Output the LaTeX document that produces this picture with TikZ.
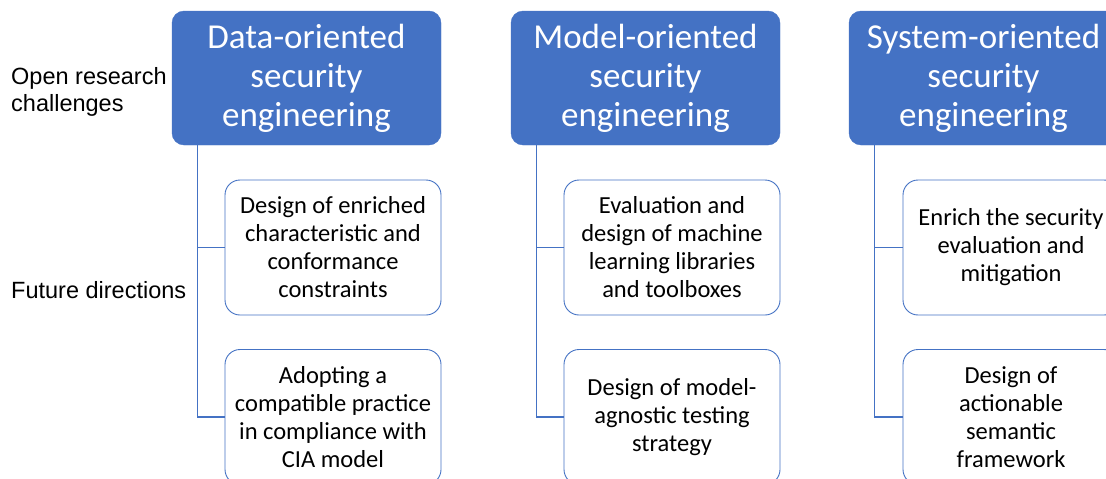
\documentclass[tikz,border=0pt]{standalone}
\usepackage{fontspec}
\setmainfont{Carlito}
\newfontfamily\arialf{Liberation Sans}
\definecolor{accent}{HTML}{4472C4}
\tikzset{
  headbox/.style={draw=accent, fill=accent, rounded corners=12pt, minimum width=269pt, minimum height=134pt,
    inner sep=0pt, text=white, align=center, font=\fontsize{35}{39}\selectfont},
  childbox/.style={draw=accent, line width=0.9pt, fill=white, rounded corners=15pt, minimum width=216pt, minimum height=135pt,
    inner sep=0pt, text=black, align=center, font=\fontsize{24.5}{28}\selectfont},
  conn/.style={draw=accent, line width=1.3pt},
  sidelabel/.style={anchor=west, inner sep=0pt, align=left, font=\arialf\fontsize{23.5}{27}\selectfont}
}
\begin{document}
\begin{tikzpicture}[x=1pt,y=-1pt]
\useasboundingbox (0,0) rectangle (1106,479);
\clip (0,0) rectangle (1106,479);
% headers
\node[headbox] (h1) at (306.5,78) {Data-oriented\\security\\engineering};
\node[headbox] (h2) at (645.5,78) {Model-oriented\\security\\engineering};
\node[headbox] (h3) at (983.5,78) {System-oriented\\security\\engineering};
% children
\node[childbox] (a1) at (333,247.5) {Design of enriched\\characteristic and\\conformance\\constraints};
\node[childbox] (a2) at (333,417) {Adopting a\\compatible practice\\in compliance with\\CIA model};
\node[childbox] (b1) at (672,247.5) {Evaluation and\\design of machine\\learning libraries\\and toolboxes};
\node[childbox] (b2) at (672,417) {Design of model-\\agnostic testing\\strategy};
\node[childbox] (c1) at (1011,247.5) {Enrich the security\\evaluation and\\mitigation};
\node[childbox] (c2) at (1011,417) {Design of\\actionable\\semantic\\framework};
% connectors
\draw[conn] ([xshift=26pt]h1.south west) |- (a1.west);
\draw[conn] ([xshift=26pt]h1.south west) |- (a2.west);
\draw[conn] ([xshift=26pt]h2.south west) |- (b1.west);
\draw[conn] ([xshift=26pt]h2.south west) |- (b2.west);
\draw[conn] ([xshift=26pt]h3.south west) |- (c1.west);
\draw[conn] ([xshift=26pt]h3.south west) |- (c2.west);
% side labels
\node[sidelabel] (l1) at (11,91.5) {Open research\\challenges};
\node[sidelabel] (l2) at (11,290) {Future directions};
\end{tikzpicture}
\end{document}
